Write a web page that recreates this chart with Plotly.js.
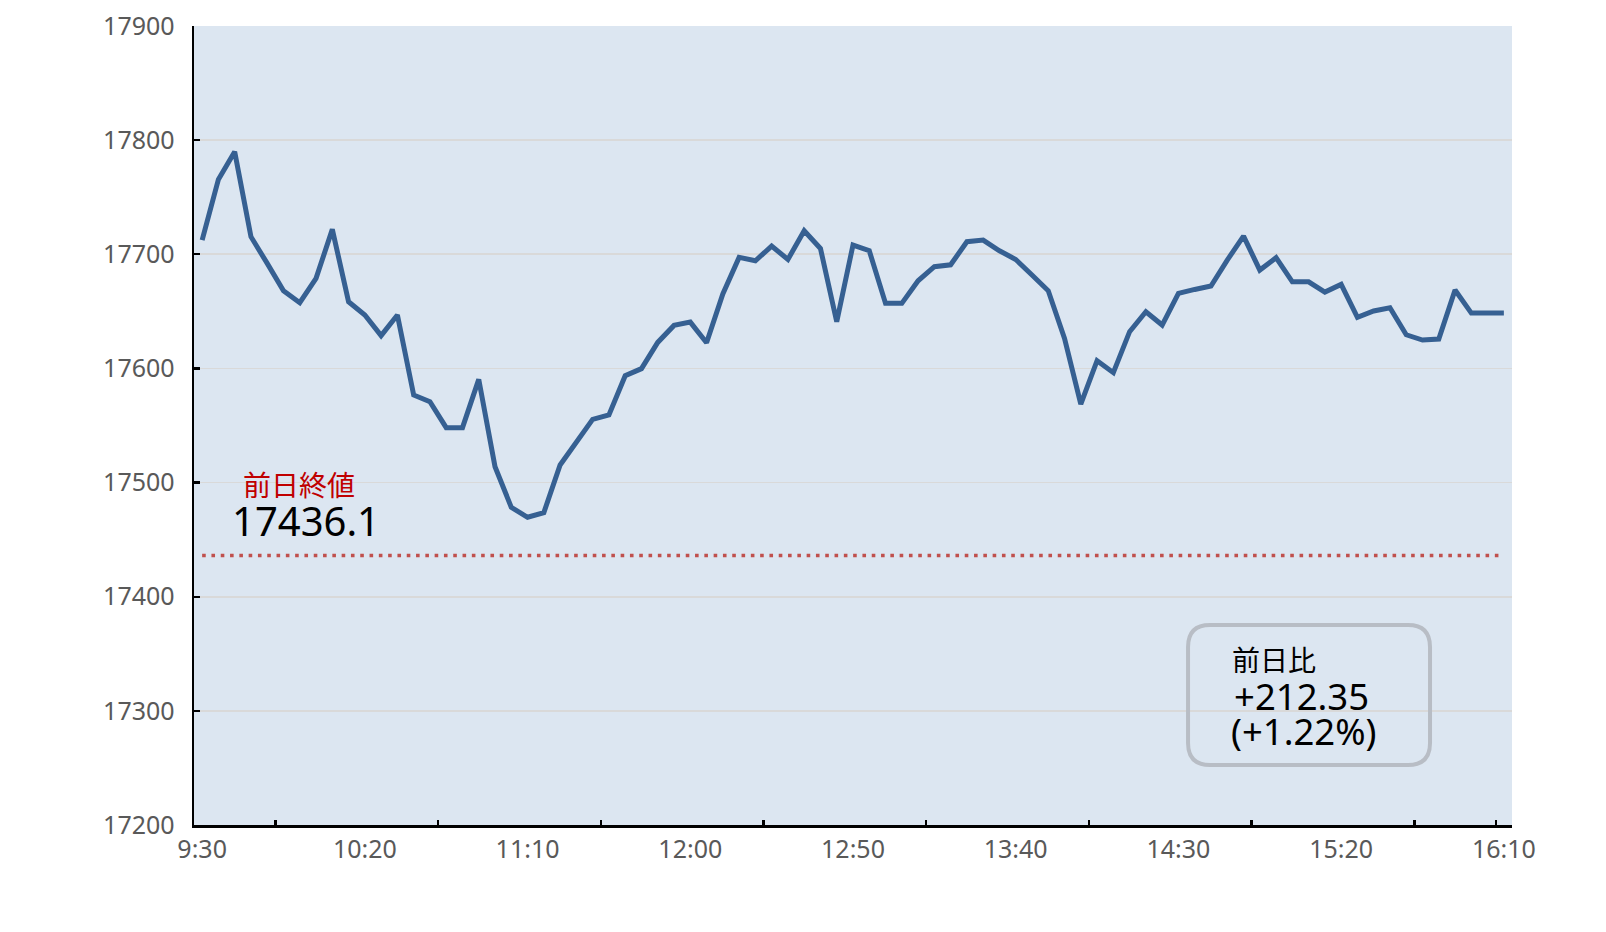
<!DOCTYPE html>
<html>
<head>
<meta charset="utf-8">
<script src="https://cdn.plot.ly/plotly-3.0.1.min.js"></script>
<style>
  html, body { margin: 0; padding: 0; background: #ffffff; }
  #chart { width: 1606px; height: 932px; }
</style>
</head>
<body>
<div id="chart"></div>
<script>
// ---- data ----
const times = [
  '9:30','9:35','9:40','9:45','9:50','9:55','10:00','10:05','10:10','10:15',
  '10:20','10:25','10:30','10:35','10:40','10:45','10:50','10:55','11:00','11:05',
  '11:10','11:15','11:20','11:25','11:30','11:35','11:40','11:45','11:50','11:55',
  '12:00','12:05','12:10','12:15','12:20','12:25','12:30','12:35','12:40','12:45',
  '12:50','12:55','13:00','13:05','13:10','13:15','13:20','13:25','13:30','13:35',
  '13:40','13:45','13:50','13:55','14:00','14:05','14:10','14:15','14:20','14:25',
  '14:30','14:35','14:40','14:45','14:50','14:55','15:00','15:05','15:10','15:15',
  '15:20','15:25','15:30','15:35','15:40','15:45','15:50','15:55','16:00','16:05',
  '16:10'
];
const prices = [
  17712.4, 17765.6, 17789.8, 17715.4, 17692.0, 17668.0, 17657.6, 17678.9, 17721.8, 17658.4,
  17646.8, 17628.7, 17646.8, 17576.7, 17570.9, 17548.1, 17548.1, 17590.4, 17513.9, 17478.3,
  17469.6, 17473.7, 17515.4, 17535.8, 17555.4, 17559.2, 17593.6, 17599.8, 17622.8, 17637.7,
  17640.6, 17622.5, 17665.2, 17697.3, 17694.3, 17707.2, 17695.5, 17720.6, 17705.1, 17640.9,
  17708.1, 17703.1, 17657.0, 17657.0, 17676.8, 17689.1, 17690.8, 17711.0, 17712.4, 17703.1,
  17695.5, 17681.8, 17668.0, 17626.3, 17568.8, 17606.8, 17596.3, 17632.2, 17649.7, 17638.0,
  17665.7, 17669.2, 17672.2, 17694.9, 17715.9, 17686.2, 17697.0, 17675.9, 17675.9, 17666.9,
  17673.6, 17644.7, 17650.3, 17653.2, 17629.5, 17624.9, 17625.7, 17668.7, 17648.5, 17648.5,
  17648.5
];
const tickLabels = ['9:30','10:20','11:10','12:00','12:50','13:40','14:30','15:20','16:10'];
const yTicks = [17200, 17300, 17400, 17500, 17600, 17700, 17800, 17900];
const prevClose = 17436.1;
const prevCloseLabel = '前日終値';
const changeLabel = '前日比';
const change = 212.35;
const changePct = 1.22;

// ---- build ----
const xIdx = times.map((t, i) => i);
const tickIdx = tickLabels.map(l => times.indexOf(l));
const minorTickIdx = [4.5, 14.5, 24.5, 34.5, 44.5, 54.5, 64.5, 74.5, 79.5];

const priceTrace = {
  x: xIdx, y: prices, text: times, type: 'scatter', mode: 'lines',
  line: { color: '#366092', width: 5 },
  hovertemplate: '%{text}: %{y}<extra></extra>',
  xaxis: 'x', yaxis: 'y'
};
const prevTrace = {
  x: [xIdx[0], xIdx[xIdx.length - 1]], y: [prevClose, prevClose],
  type: 'scatter', mode: 'lines',
  line: { color: '#c0504d', width: 3.6, dash: '3.6px,5.7px' },
  hoverinfo: 'skip', xaxis: 'x2', yaxis: 'y'
};

const tickFont = { family: 'Noto Sans, Open Sans, sans-serif', size: 25, color: '#595959' };
const xr = [-0.5, times.length - 0.5];

// rounded box (paper coords)
const bx0 = 0.7542, bx1 = 0.9378, by0 = 0.075, by1 = 0.2502;
const rx = 22 / 1318, ry = 22 / 799.5;
const boxPath = `M ${bx0 + rx} ${by1} L ${bx1 - rx} ${by1} Q ${bx1} ${by1} ${bx1} ${by1 - ry} ` +
  `L ${bx1} ${by0 + ry} Q ${bx1} ${by0} ${bx1 - rx} ${by0} L ${bx0 + rx} ${by0} ` +
  `Q ${bx0} ${by0} ${bx0} ${by0 + ry} L ${bx0} ${by1 - ry} Q ${bx0} ${by1} ${bx0 + rx} ${by1} Z`;

const sign = change >= 0 ? '+' : '';

const layout = {
  width: 1606, height: 932,
  margin: { l: 194, r: 94, t: 26, b: 107 },
  paper_bgcolor: '#ffffff',
  plot_bgcolor: '#dce6f1',
  showlegend: false,
  xaxis: {
    range: xr, tickmode: 'array', tickvals: tickIdx, ticktext: tickLabels,
    ticks: '', showgrid: false, zeroline: false,
    showline: true, linecolor: '#000000', linewidth: 2.8,
    tickfont: tickFont, ticklabelstandoff: 0, fixedrange: true
  },
  xaxis2: {
    range: xr, overlaying: 'x', side: 'bottom', anchor: 'y',
    tickmode: 'array', tickvals: minorTickIdx,
    ticks: 'inside', ticklen: 5, tickwidth: 2.4, tickcolor: '#000000',
    showticklabels: false, showgrid: false, zeroline: false, showline: false, fixedrange: true
  },
  yaxis: {
    range: [yTicks[0], yTicks[yTicks.length - 1]],
    tickmode: 'array', tickvals: yTicks, ticktext: yTicks.map(String),
    ticks: 'inside', ticklen: 6, tickwidth: 2.4, tickcolor: '#000000',
    showgrid: true, gridcolor: '#d9d9d9', gridwidth: 1.6, zeroline: false,
    showline: true, linecolor: '#000000', linewidth: 2.4,
    tickfont: tickFont, ticklabelstandoff: 12, fixedrange: true
  },
  shapes: [
    { type: 'path', xref: 'paper', yref: 'paper', path: boxPath,
      line: { color: '#b8bdc5', width: 4 }, fillcolor: 'rgba(0,0,0,0)' }
  ],
  annotations: [
    { xref: 'paper', yref: 'paper', x: 0.0797, y: 0.4265, xanchor: 'center', yanchor: 'middle',
      text: prevCloseLabel, showarrow: false,
      font: { family: 'Noto Sans CJK JP, sans-serif', size: 28, color: '#c00000' } },
    { xref: 'paper', yref: 'paper', x: 0.0846, y: 0.3815, xanchor: 'center', yanchor: 'middle',
      text: String(prevClose), showarrow: false,
      font: { family: 'Noto Sans, sans-serif', size: 40, color: '#000000' } },
    { xref: 'paper', yref: 'paper', x: 0.7860, y: 0.2075, xanchor: 'left', yanchor: 'middle',
      text: changeLabel, showarrow: false,
      font: { family: 'Noto Sans CJK JP, sans-serif', size: 28, color: '#000000' } },
    { xref: 'paper', yref: 'paper', x: 0.7875, y: 0.1613, xanchor: 'left', yanchor: 'middle',
      text: sign + change.toFixed(2), showarrow: false,
      font: { family: 'Noto Sans, sans-serif', size: 36.5, color: '#000000' } },
    { xref: 'paper', yref: 'paper', x: 0.7855, y: 0.1175, xanchor: 'left', yanchor: 'middle',
      text: '(' + sign + changePct.toFixed(2) + '%)', showarrow: false,
      font: { family: 'Noto Sans, sans-serif', size: 36.5, color: '#000000' } }
  ]
};

Plotly.newPlot('chart', [priceTrace, prevTrace], layout, { displayModeBar: false, staticPlot: true });
</script>
</body>
</html>
